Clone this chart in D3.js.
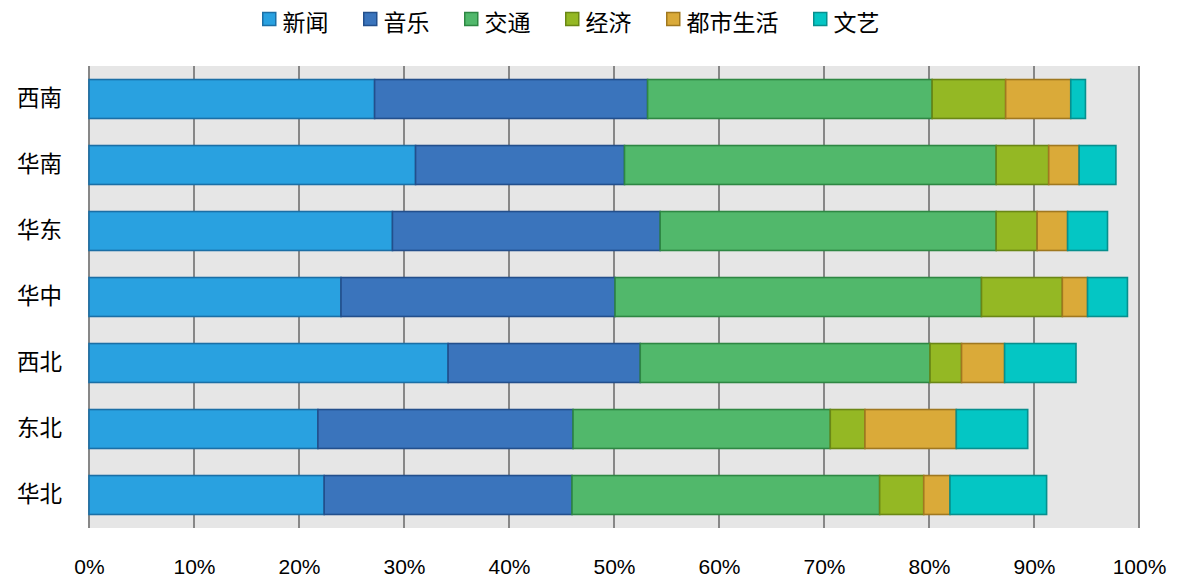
<!DOCTYPE html>
<html>
<head>
<meta charset="utf-8">
<script src="https://cdn.jsdelivr.net/npm/d3@7"></script>
<style>
  html, body { margin: 0; padding: 0; background: #ffffff; }
  svg { display: block; }
</style>
</head>
<body>
<svg id="chart" width="1190" height="588"></svg>
<script>
// ---- data ----
const categories = ["西南", "华南", "华东", "华中", "西北", "东北", "华北"];
const seriesNames = ["新闻", "音乐", "交通", "经济", "都市生活", "文艺"];
const news    = [27.2, 31.1, 28.9, 24.0, 34.2, 21.8, 22.4];
const music   = [26.0, 19.9, 25.5, 26.1, 18.3, 24.3, 23.6];
const traffic = [27.1, 35.4, 32.0, 34.9, 27.6, 24.5, 29.3];
const economy = [7.0, 5.0, 3.9, 7.7, 3.0, 3.3, 4.2];
const cityLife= [6.2, 2.9, 2.9, 2.4, 4.1, 8.7, 2.5];
const arts    = [1.4, 3.5, 3.8, 3.8, 6.8, 6.8, 9.2];
const tickValues = [0, 10, 20, 30, 40, 50, 60, 70, 80, 90, 100];

const fills   = ["#29a1e0", "#3a74bc", "#51b86b", "#94b824", "#daaa39", "#04c6c4"];
const strokes = ["#1b6fa6", "#234f8c", "#2e8743", "#6a8715", "#a07820", "#078f8e"];

const seriesValues = [news, music, traffic, economy, cityLife, arts];
const rows = categories.map((c, i) => {
  const o = { cat: c };
  seriesNames.forEach((s, j) => { o[s] = seriesValues[j][i]; });
  return o;
});
const stacked = d3.stack().keys(seriesNames)(rows);

// ---- layout ----
const svg = d3.select("#chart");
const plotLeft = 89, plotRight = 1139, plotTop = 66, plotBottom = 528;

const x = d3.scaleLinear().domain([0, 100]).range([plotLeft, plotRight]);
const y = d3.scaleBand().domain(categories).range([plotTop, plotBottom])
  .paddingInner(0.41).paddingOuter(0.205);

// background
svg.append("rect").attr("x", plotLeft).attr("y", plotTop)
  .attr("width", plotRight - plotLeft).attr("height", plotBottom - plotTop)
  .attr("fill", "#e6e6e6");

// gridlines
svg.append("g").selectAll("line").data(tickValues).join("line")
  .attr("x1", d => x(d)).attr("x2", d => x(d))
  .attr("y1", plotTop).attr("y2", plotBottom)
  .attr("stroke", "#878787").attr("stroke-width", 2);

// bars
const layer = svg.append("g").selectAll("g").data(stacked).join("g")
  .attr("fill", (d, i) => fills[i])
  .attr("stroke", (d, i) => strokes[i]);
layer.selectAll("rect").data(d => d).join("rect")
  .attr("x", d => x(d[0]))
  .attr("y", d => y(d.data.cat))
  .attr("width", d => x(d[1]) - x(d[0]))
  .attr("height", y.bandwidth())
  .attr("stroke-width", 1.6);

// x axis labels
const xAxis = d3.axisBottom(x).tickValues(tickValues).tickFormat(d => d + "%").tickSize(0).tickPadding(0);
const gx = svg.append("g").attr("transform", `translate(0, 559)`).call(xAxis);
gx.select(".domain").remove();
gx.selectAll("text")
  .attr("font-family", "Liberation Sans, Arial, sans-serif")
  .attr("font-size", 21).attr("fill", "#000").attr("dy", "0.71em");

// y axis labels
const yAxis = d3.axisLeft(y).tickSize(0).tickPadding(27);
const gy = svg.append("g").attr("transform", `translate(${plotLeft}, 0)`).call(yAxis);
gy.select(".domain").remove();
gy.selectAll("text")
  .attr("font-family", "'Noto Sans CJK SC', sans-serif")
  .attr("font-size", 22.5).attr("fill", "#000");

// legend
const legend = svg.append("g").attr("transform", "translate(262, 0)");
let lx = 0;
seriesNames.forEach((s, i) => {
  const g = legend.append("g").attr("transform", `translate(${lx}, 0)`);
  g.append("rect").attr("x", 0.75).attr("y", 12.5).attr("width", 13).attr("height", 13)
    .attr("fill", fills[i]).attr("stroke", strokes[i]).attr("stroke-width", 1.5);
  const t = g.append("text").attr("x", 20.5).attr("y", 23).attr("dy", "0.35em")
    .attr("font-family", "'Noto Sans CJK SC', sans-serif")
    .attr("font-size", 23).attr("fill", "#000").text(s);
  const w = t.node().getComputedTextLength();
  lx += 20.5 + w + 34.5;
});
</script>
</body>
</html>
